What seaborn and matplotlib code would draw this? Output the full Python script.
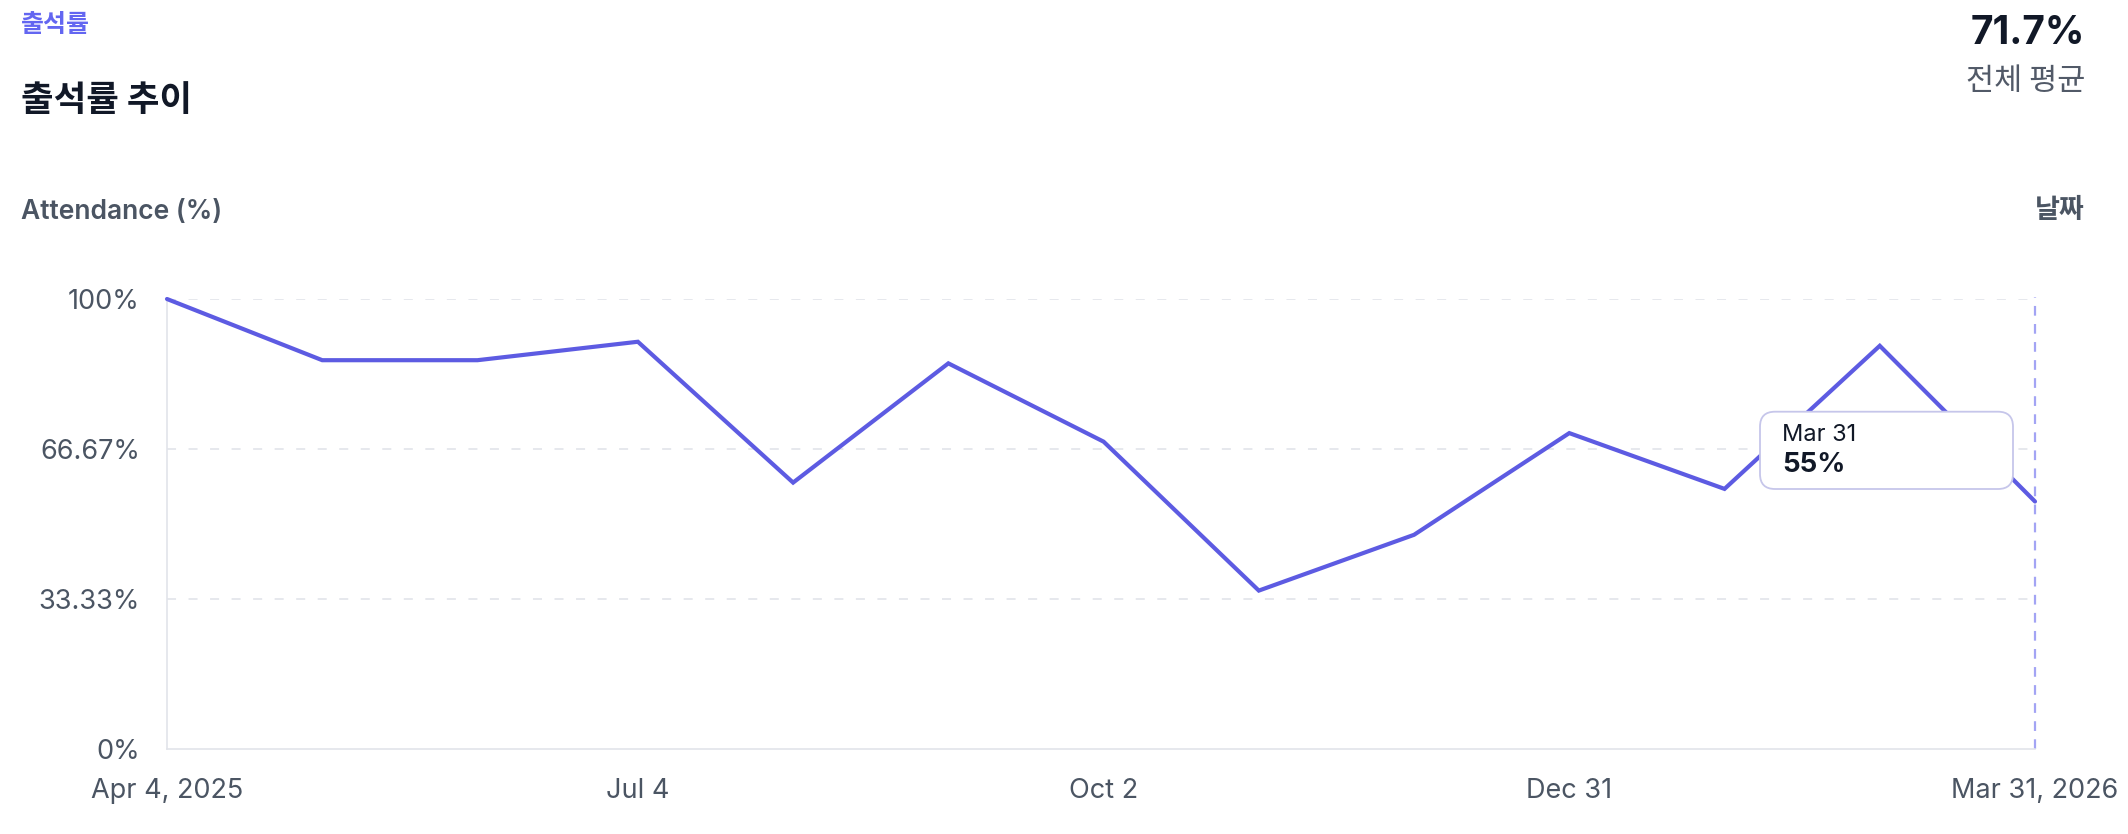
import pandas as pd
import numpy as np
import matplotlib
matplotlib.use("Agg")
import matplotlib.pyplot as plt
from matplotlib.patches import FancyBboxPatch
import seaborn as sns


# Data

dates = ["2025-04-04", "2025-05-04", "2025-06-03", "2025-07-04", "2025-08-03",
         "2025-09-02", "2025-10-02", "2025-11-01", "2025-12-01", "2025-12-31",
         "2026-01-30", "2026-03-01", "2026-03-31"]
attendance = [100.0, 86.4, 86.4, 90.5, 59.2, 85.7, 68.3, 35.2, 47.6, 70.2, 57.8, 89.6, 55.0]

tick_dates = ["2025-04-04", "2025-07-04", "2025-10-02", "2025-12-31", "2026-03-31"]
tick_labels = ["Apr 4, 2025", "Jul 4", "Oct 2", "Dec 31", "Mar 31, 2026"]
y_ticks = [0, 100 / 3, 200 / 3, 100]
y_labels = ["0%", "33.33%", "66.67%", "100%"]

df = pd.DataFrame({"date": pd.to_datetime(dates), "attendance": attendance})

# Style

sns.set_theme(style="white")
plt.rcParams["font.family"] = ["Inter", "Noto Sans CJK KR", "DejaVu Sans"]
plt.rcParams["lines.scale_dashes"] = False

LINE = "#5d5be2"
GRID = "#e2e4ea"
TEXT_GRAY = "#4b5563"
DARK = "#111827"

fig = plt.figure(figsize=(21.28, 8.34), dpi=100)
ax = fig.add_axes([167 / 2128, 1 - 749 / 834, (2035 - 167) / 2128, (749 - 299) / 834])

for yv in y_ticks[1:]:
    ax.axhline(yv, color=GRID, lw=1.2, ls=(0, (6.5, 9)), zorder=1)

ax.axvline(df["date"].iloc[-1], ymin=0.0, ymax=1.005, color="#a3a4f4", lw=1.6,
           ls=(0, (7, 6)), zorder=2, clip_on=False)

sns.lineplot(data=df, x="date", y="attendance", color=LINE, linewidth=3.0,
             ax=ax, zorder=3, clip_on=False)
for ln in ax.lines:
    ln.set_solid_joinstyle("miter")

ax.set_xlim(df["date"].iloc[0], df["date"].iloc[-1])
ax.set_ylim(0, 100)
ax.set_xticks(pd.to_datetime(tick_dates))
ax.set_xticklabels(tick_labels)
ax.set_yticks(y_ticks)
ax.set_yticklabels(y_labels)
ax.set_xlabel("")
ax.set_ylabel("")

for side in ["top", "right"]:
    ax.spines[side].set_visible(False)
for side in ["left", "bottom"]:
    ax.spines[side].set_color(GRID)
    ax.spines[side].set_linewidth(1.2)

ax.tick_params(axis="x", length=12, width=1.2, color=GRID, pad=9,
               labelsize=19.5, labelcolor=TEXT_GRAY)
ax.tick_params(axis="y", length=0, pad=19.5, labelsize=19.5, labelcolor=TEXT_GRAY)

# Header texts

fig.text(21 / 2128, 1 - 25 / 834, "출석률", fontsize=18, fontweight="bold",
         color="#6366f1", va="center", ha="left", family=["Noto Sans CJK KR"])
fig.text(21 / 2128, 1 - 101 / 834, "출석률 추이", fontsize=25.5, fontweight="bold",
         color=DARK, va="center", ha="left", family=["Noto Sans CJK KR"])
fig.text(2085 / 2128, 1 - 33 / 834, f"{np.mean(attendance):.1f}%", fontsize=28,
         fontweight="bold", color=DARK, va="center", ha="right")
fig.text(2085 / 2128, 1 - 81 / 834, "전체 평균", fontsize=22, color="#525a68",
         va="center", ha="right", family=["Noto Sans CJK KR"])
fig.text(21 / 2128, 1 - 212 / 834, "Attendance (%)", fontsize=19,
         fontweight="semibold", color=TEXT_GRAY, va="center", ha="left")
fig.text(2085 / 2128, 1 - 210 / 834, "날짜", fontsize=19.5, fontweight="bold",
         color=TEXT_GRAY, va="center", ha="right", family=["Noto Sans CJK KR"])

# Tooltip for the last point

box = FancyBboxPatch((17.60, 3.45), 2.53, 0.773,
                     boxstyle="round,pad=0,rounding_size=0.15",
                     transform=fig.dpi_scale_trans, facecolor="white",
                     edgecolor="#c6c6ea", linewidth=1.3, zorder=5)
fig.patches.append(box)
last = df.iloc[-1]
fig.text(17.82, 3.99, last["date"].strftime("%b %-d"), fontsize=17, color=DARK,
         va="center", ha="left", transform=fig.dpi_scale_trans, zorder=6)
fig.text(17.82, 3.69, f"{last['attendance']:.0f}%", fontsize=20, fontweight="bold",
         color=DARK, va="center", ha="left", transform=fig.dpi_scale_trans, zorder=6)

fig.savefig("out.png", dpi=100)
